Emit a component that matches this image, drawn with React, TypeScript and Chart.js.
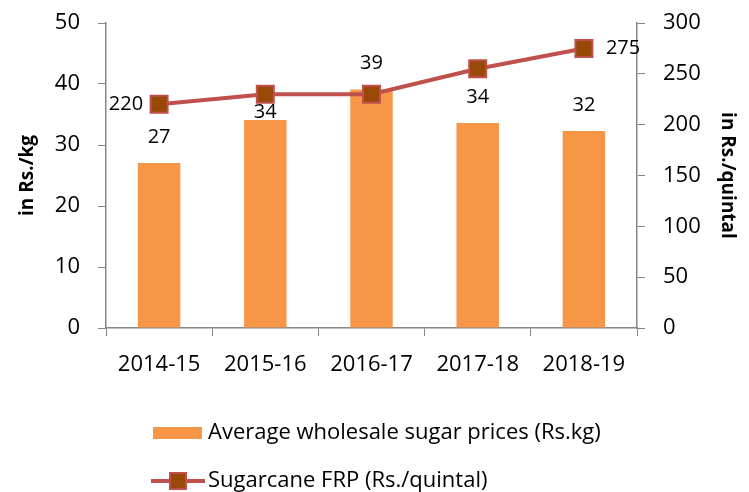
import React, { useEffect, useRef } from "react";
import { Chart, registerables } from "chart.js";

Chart.register(...registerables);

const categories = ["2014-15", "2015-16", "2016-17", "2017-18", "2018-19"];
const sugarPrices = [27.05, 34.1, 39.1, 33.6, 32.3];
const frpValues = [220, 230, 230, 255, 275];
const leftAxis = { min: 0, max: 50, step: 10 };
const rightAxis = { min: 0, max: 300, step: 50 };
const sugarLabel = "Average wholesale sugar prices (Rs.kg)";
const frpLabel = "Sugarcane FRP (Rs./quintal)";
const leftTitle = "in Rs./kg";
const rightTitle = "in Rs./quintal";

const FONT = "'Open Sans', 'DejaVu Sans', sans-serif";
const BAR_COLOR = "#F79646";
const LINE_COLOR = "#C0504D";
const MARKER_COLOR = "#984807";
const AXIS_COLOR = "#868686";

const labelPlugin = {
  id: "valueLabels",
  afterDatasetsDraw(chart: any) {
    const ctx = chart.ctx;
    ctx.save();
    ctx.fillStyle = "#000";
    ctx.font = `20px ${FONT}`;
    ctx.textBaseline = "middle";
    const barMeta = chart.getDatasetMeta(1);
    barMeta.data.forEach((el: any, i: number) => {
      const v = Math.round(sugarPrices[i]);
      const gap = i === 1 ? 8 : 26;
      ctx.textAlign = "center";
      ctx.fillText(String(v), el.x, el.y - gap);
    });
    const lineMeta = chart.getDatasetMeta(0);
    const n = frpValues.length;
    [0, n - 1].forEach((i) => {
      const el = lineMeta.data[i];
      if (i === 0) {
        ctx.textAlign = "right";
        ctx.fillText(String(frpValues[i]), el.x - 16, el.y);
      } else {
        ctx.textAlign = "left";
        ctx.fillText(String(frpValues[i]), el.x + 22, el.y);
      }
    });
    ctx.restore();
  },
};

const legendPlugin = {
  id: "customLegend",
  afterDraw(chart: any) {
    const ctx = chart.ctx;
    ctx.save();
    ctx.font = `22px ${FONT}`;
    ctx.textAlign = "left";
    ctx.textBaseline = "middle";
    ctx.fillStyle = BAR_COLOR;
    ctx.fillRect(153, 427, 49, 12);
    ctx.fillStyle = "#000";
    ctx.fillText(chart.data.datasets[1].label, 208, 433);
    ctx.strokeStyle = LINE_COLOR;
    ctx.lineWidth = 4;
    ctx.beginPath();
    ctx.moveTo(151, 481);
    ctx.lineTo(205, 481);
    ctx.stroke();
    ctx.fillStyle = MARKER_COLOR;
    ctx.fillRect(170, 473, 16, 16);
    ctx.lineWidth = 2;
    ctx.strokeRect(170, 473, 16, 16);
    ctx.fillStyle = "#000";
    ctx.fillText(chart.data.datasets[0].label, 208, 481);
    ctx.restore();
  },
};

const fitVertical = (w: number) => (s: any) => {
  s.width = w;
  s.paddingTop = 0;
  s.paddingBottom = 0;
};

export default function App() {
  const canvasRef = useRef<HTMLCanvasElement | null>(null);

  useEffect(() => {
    if (!canvasRef.current) return;
    const chart = new Chart(canvasRef.current, {
      type: "bar",
      data: {
        labels: categories,
        datasets: [
          {
            type: "line",
            label: frpLabel,
            data: frpValues,
            yAxisID: "y1",
            borderColor: LINE_COLOR,
            borderWidth: 4,
            backgroundColor: MARKER_COLOR,
            pointStyle: "rect",
            pointRadius: 12,
            pointBorderWidth: 2,
            pointBorderColor: LINE_COLOR,
            pointBackgroundColor: MARKER_COLOR,
            tension: 0,
            order: 0,
          } as any,
          {
            type: "bar",
            label: sugarLabel,
            data: sugarPrices,
            yAxisID: "y",
            backgroundColor: BAR_COLOR,
            borderWidth: 0,
            categoryPercentage: 1,
            barPercentage: 0.4,
            order: 1,
          },
        ],
      },
      options: {
        responsive: false,
        animation: false,
        layout: { padding: { top: 23, left: 0, right: 0, bottom: 0 } },
        plugins: {
          legend: { display: false },
          tooltip: { enabled: false },
        },
        scales: {
          x: {
            offset: true,
            grid: {
              offset: true,
              drawOnChartArea: false,
              drawTicks: true,
              tickLength: 8,
              color: AXIS_COLOR,
            },
            border: { color: AXIS_COLOR, width: 1.5 },
            ticks: {
              color: "#000",
              font: { family: FONT, size: 22 },
              padding: 16,
              maxRotation: 0,
            },
            afterFit: (s: any) => {
              s.height = 164;
              s.paddingLeft = 0;
              s.paddingRight = 0;
            },
          },
          y: {
            position: "left",
            min: leftAxis.min,
            max: leftAxis.max,
            grid: {
              drawOnChartArea: false,
              tickLength: 8,
              color: AXIS_COLOR,
            },
            border: { color: AXIS_COLOR, width: 1.5 },
            ticks: {
              stepSize: leftAxis.step,
              color: "#000",
              font: { family: FONT, size: 22 },
              padding: 18,
            },
            title: {
              display: true,
              text: leftTitle,
              color: "#000",
              font: { family: FONT, size: 19, weight: "bold" },
              padding: { top: 16, bottom: 0 },
            },
            afterFit: fitVertical(106),
          },
          y1: {
            position: "right",
            min: rightAxis.min,
            max: rightAxis.max,
            grid: {
              drawOnChartArea: false,
              tickLength: 8,
              color: AXIS_COLOR,
            },
            border: { color: AXIS_COLOR, width: 1.5 },
            ticks: {
              stepSize: rightAxis.step,
              color: "#000",
              font: { family: FONT, size: 22 },
              padding: 18,
            },
            title: {
              display: true,
              text: rightTitle,
              color: "#000",
              font: { family: FONT, size: 19, weight: "bold" },
              padding: { top: 10, bottom: 0 },
            },
            afterFit: fitVertical(112),
          },
        },
      },
      plugins: [labelPlugin, legendPlugin],
    });
    return () => chart.destroy();
  }, []);

  return (
    <div style={{ position: "absolute", left: 0, top: 0, width: 749, height: 492, background: "#fff" }}>
      <canvas ref={canvasRef} width={749} height={492} />
    </div>
  );
}
